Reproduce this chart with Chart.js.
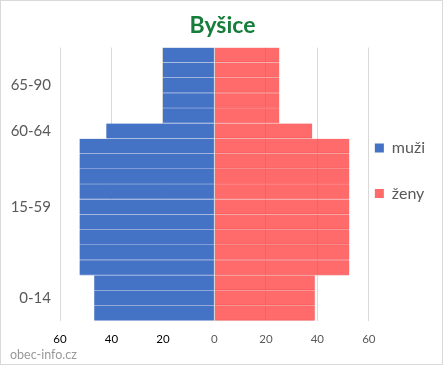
<!DOCTYPE html>
<html>
<head>
<meta charset="utf-8">
<script src="https://cdn.jsdelivr.net/npm/chart.js@4/dist/chart.umd.min.js"></script>
<style>
  html, body { margin: 0; padding: 0; background: #fff; }
  #wrap { position: relative; width: 443px; height: 365px; }
  #frame { position: absolute; left: 0; top: 0; width: 443px; height: 365px; box-sizing: border-box; border: 1px solid #d9d9d9; pointer-events: none; }
  canvas { display: block; }
</style>
</head>
<body>
<div id="wrap">
  <canvas id="c" width="443" height="365"></canvas>
  <div id="frame"></div>
</div>
<script>
// Age bands, top to bottom
const ageBands = ['85-90','80-84','75-79','70-74','65-69','60-64',
  '55-59','50-54','45-49','40-44','35-39','30-34','25-29','20-24','15-19',
  '10-14','5-9','0-4'];
// Axis labels shown at the middle of each group
const tickLabels = ['','','65-90','','','60-64',
  '','','','','15-59','','','','',
  '','0-14',''];
// Men (muži) per band
const men = [20,20,20,20,20,42,
  52.4,52.4,52.4,52.4,52.4,52.4,52.4,52.4,52.4,
  46.7,46.7,46.7];
// Women (ženy) per band
const women = [25.2,25.2,25.2,25.2,25.2,38,
  52.4,52.4,52.4,52.4,52.4,52.4,52.4,52.4,52.4,
  39,39,39];
const xTicks = [-60,-40,-20,0,20,40,60];
const seriesNames = ['muži','ženy'];

const FONT = 'Lato';

new Chart(document.getElementById('c'), {
  type: 'bar',
  data: {
    labels: ageBands,
    datasets: [
      {
        label: seriesNames[0],
        data: men.map(v => -v),
        backgroundColor: '#4472c4',
        borderColor: '#bcc9e6',
        borderWidth: {top: 0, bottom: 1, left: 0, right: 0},
        borderSkipped: false
      },
      {
        label: seriesNames[1],
        data: women,
        backgroundColor: 'rgba(255,56,56,0.75)',
        borderColor: '#f3bcbc',
        borderWidth: {top: 0, bottom: 1, left: 0, right: 0},
        borderSkipped: false
      }
    ]
  },
  options: {
    indexAxis: 'y',
    responsive: false,
    animation: false,
    devicePixelRatio: 1,
    barPercentage: 1,
    categoryPercentage: 1,
    layout: { padding: { left: 10, right: 8, top: 0, bottom: 0 } },
    scales: {
      y: {
        stacked: true,
        grid: { display: false, drawTicks: false },
        border: { display: false },
        afterFit: (scale) => { scale.width = 50; },
        ticks: {
          autoSkip: false,
          padding: 9,
          color: '#595959',
          font: { family: FONT, size: 15 },
          callback: (v, i) => tickLabels[i]
        }
      },
      x: {
        stacked: true,
        min: xTicks[0],
        max: xTicks[xTicks.length - 1],
        afterBuildTicks: (scale) => { scale.ticks = xTicks.map(v => ({value: v})); },
        afterFit: (scale) => { scale.height = 26; },
        grid: { color: '#d9d9d9', drawTicks: false },
        border: { display: false },
        ticks: {
          padding: 11,
          font: { family: FONT, size: 11.5 },
          color: (ctx) => ctx.tick && ctx.tick.value < 0 ? '#000000' : '#595959',
          callback: (v) => Math.abs(v)
        }
      }
    },
    plugins: {
      title: {
        display: true,
        text: 'Byšice',
        color: '#177d3b',
        font: { family: FONT, size: 23, weight: 'bold' },
        padding: { top: 12, bottom: 8 }
      },
      subtitle: {
        display: true,
        text: 'obec-info.cz',
        position: 'bottom',
        align: 'start',
        color: '#999999',
        font: { family: FONT, size: 12.5, weight: 'normal' },
        padding: { top: 0, bottom: 3 }
      },
      legend: {
        position: 'right',
        align: 'center',
        labels: {
          boxWidth: 9,
          boxHeight: 9,
          padding: 6,
          color: '#595959',
          font: { family: FONT, size: 16, lineHeight: '39.5px' },
          generateLabels: (chart) => chart.data.datasets.map((ds, i) => ({
            text: [ds.label],
            fillStyle: i === 0 ? '#4472c4' : '#ff6a6a',
            strokeStyle: i === 0 ? '#4472c4' : '#ff6a6a',
            lineWidth: 0,
            hidden: false,
            datasetIndex: i,
            fontColor: '#595959'
          }))
        }
      },
      tooltip: { enabled: false }
    }
  }
});
</script>
</body>
</html>
